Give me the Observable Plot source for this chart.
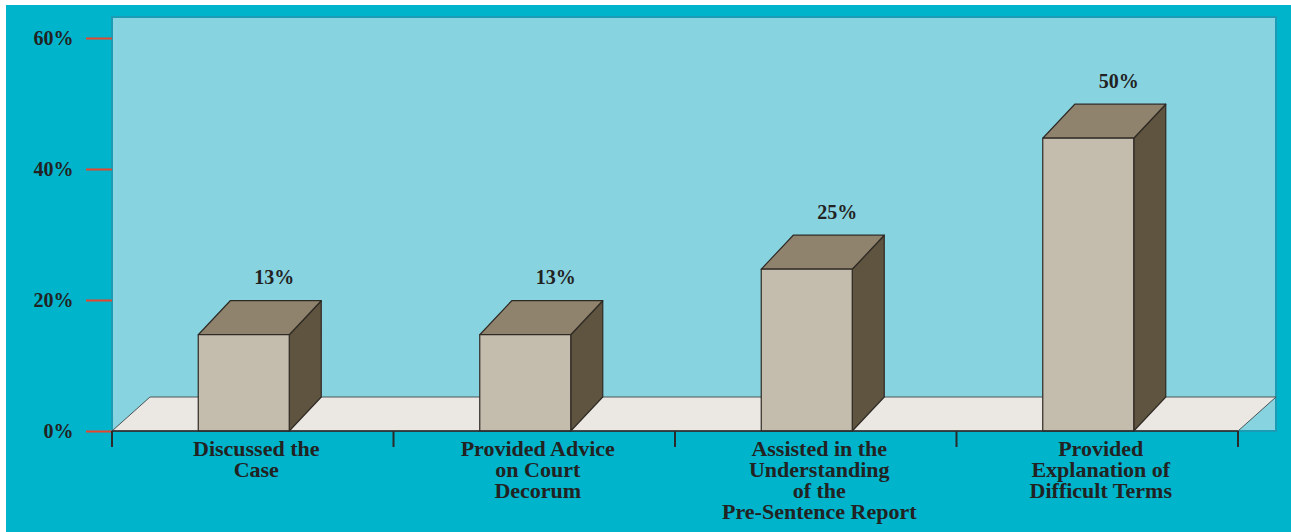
<!DOCTYPE html>
<html><head><meta charset="utf-8">
<script src="https://cdn.jsdelivr.net/npm/d3@7"></script>
<script src="https://cdn.jsdelivr.net/npm/@observablehq/plot@0.6"></script>
<style>
html,body{margin:0;padding:0;background:#fff;}
#chart{width:1291px;height:532px;}
#chart svg{display:block;}
</style></head><body><div id="chart"></div>
<script>
// ---- data ----
const categories = [
  "Discussed the\nCase",
  "Provided Advice\non Court\nDecorum",
  "Assisted in the\nUnderstanding\nof the\nPre-Sentence Report",
  "Provided\nExplanation of\nDifficult Terms"
];
const valueLabels = ["13%", "13%", "25%", "50%"];
const barHeights = [14.7, 14.7, 24.7, 44.7]; // heights as drawn in the picture
const yTicks = [0, 20, 40, 60];

// ---- layout / style ----
const FONT = "'Liberation Serif', 'Times New Roman', serif";
const W = 1291, H = 532;
const ML = 112, MR = 53, MT = 38, MB = 101;
const BAR_W = 91, BAR_SHIFT = -9, BAR_DX = 32, BAR_DY = -34;
const FLOOR_DX = 38, FLOOR_DY = -34;
const WALL_TOP = 17;

function bgMark(index, scales, values, dim) {
  const g = d3.create("svg:g");
  g.append("rect").attr("x", 6).attr("y", 5)
    .attr("width", dim.width - 6).attr("height", dim.height - 5).attr("fill", "#00b4cb");
  const x0 = dim.marginLeft, x1 = dim.width - dim.marginRight, y0 = scales.y(0);
  g.append("rect").attr("x", x0).attr("y", WALL_TOP)
    .attr("width", x1 + FLOOR_DX - x0).attr("height", y0 - WALL_TOP)
    .attr("fill", "#88d3e0").attr("stroke", "#1b9cb4").attr("stroke-width", 2);
  g.append("polygon")
    .attr("points", [[x0, y0], [x1, y0], [x1 + FLOOR_DX, y0 + FLOOR_DY], [x0 + FLOOR_DX, y0 + FLOOR_DY]].join(" "))
    .attr("fill", "#ebe8e3").attr("stroke", "#4a5456").attr("stroke-width", 1);
  return g.node();
}

function barsMark(index, scales, values, dim) {
  const g = d3.create("svg:g").attr("stroke", "#2f2a24").attr("stroke-width", 1.2).attr("stroke-linejoin", "round");
  const bw = scales.x.bandwidth ? scales.x.bandwidth() : (dim.width - dim.marginLeft - dim.marginRight) / categories.length;
  categories.forEach((c, i) => {
    const cx = scales.x(c) + bw / 2 + BAR_SHIFT;
    const xl = cx - BAR_W / 2, xr = cx + BAR_W / 2;
    const yb = scales.y(0), yt = scales.y(barHeights[i]);
    g.append("polygon")
      .attr("points", [[xr, yb], [xr, yt], [xr + BAR_DX, yt + BAR_DY], [xr + BAR_DX, yb + BAR_DY]].join(" "))
      .attr("fill", "#5f5440");
    g.append("polygon")
      .attr("points", [[xl, yt], [xr, yt], [xr + BAR_DX, yt + BAR_DY], [xl + BAR_DX, yt + BAR_DY]].join(" "))
      .attr("fill", "#8f836d");
    g.append("rect").attr("x", xl).attr("y", yt).attr("width", BAR_W).attr("height", yb - yt)
      .attr("fill", "#c4bdae");
  });
  return g.node();
}

function xAxisMark(index, scales, values, dim) {
  const g = d3.create("svg:g").attr("stroke", "#2a2a2a");
  const bw = scales.x.bandwidth ? scales.x.bandwidth() : (dim.width - dim.marginLeft - dim.marginRight) / categories.length;
  const y0 = scales.y(0);
  const x0 = scales.x(categories[0]), x1 = scales.x(categories[categories.length - 1]) + bw;
  g.append("line").attr("x1", x0).attr("x2", x1).attr("y1", y0).attr("y2", y0).attr("stroke-width", 1.5);
  const bounds = categories.map(c => scales.x(c)).concat([x1]);
  bounds.forEach(x => {
    g.append("line").attr("x1", x).attr("x2", x).attr("y1", y0).attr("y2", y0 + 16).attr("stroke-width", 2);
  });
  return g.node();
}

const chart = Plot.plot({
  width: W, height: H,
  marginLeft: ML, marginRight: MR, marginTop: MT, marginBottom: MB,
  style: {fontFamily: FONT, background: "#ffffff", color: "#222"},
  x: {type: "band", domain: categories, padding: 0, round: false, axis: null},
  y: {domain: [0, 60], axis: null},
  marks: [
    bgMark,
    barsMark,
    Plot.axisY(yTicks, {tickSize: 26, tickFormat: () => "", color: "#e8462c", strokeWidth: 2, label: null}),
    Plot.axisY(yTicks, {tickSize: 0, tickPadding: 39, tickFormat: d => d + "%", color: "#222",
      fontSize: 20, fontWeight: "bold", fontFamily: FONT, label: null}),
    xAxisMark,
    Plot.text(categories, {x: d => d, frameAnchor: "bottom", text: d => d, lineAnchor: "top",
      dy: 10, dx: 3, lineHeight: 21 / 22, fontSize: 22, fontWeight: "bold", fontFamily: FONT, fill: "#222"}),
    Plot.text(valueLabels, {x: (d, i) => categories[i], y: (d, i) => barHeights[i], text: d => d,
      dx: 21, dy: -51, lineAnchor: "bottom", fontSize: 20, fontWeight: "bold", fontFamily: FONT, fill: "#222"})
  ]
});
document.getElementById("chart").appendChild(chart);
</script>
</body></html>
